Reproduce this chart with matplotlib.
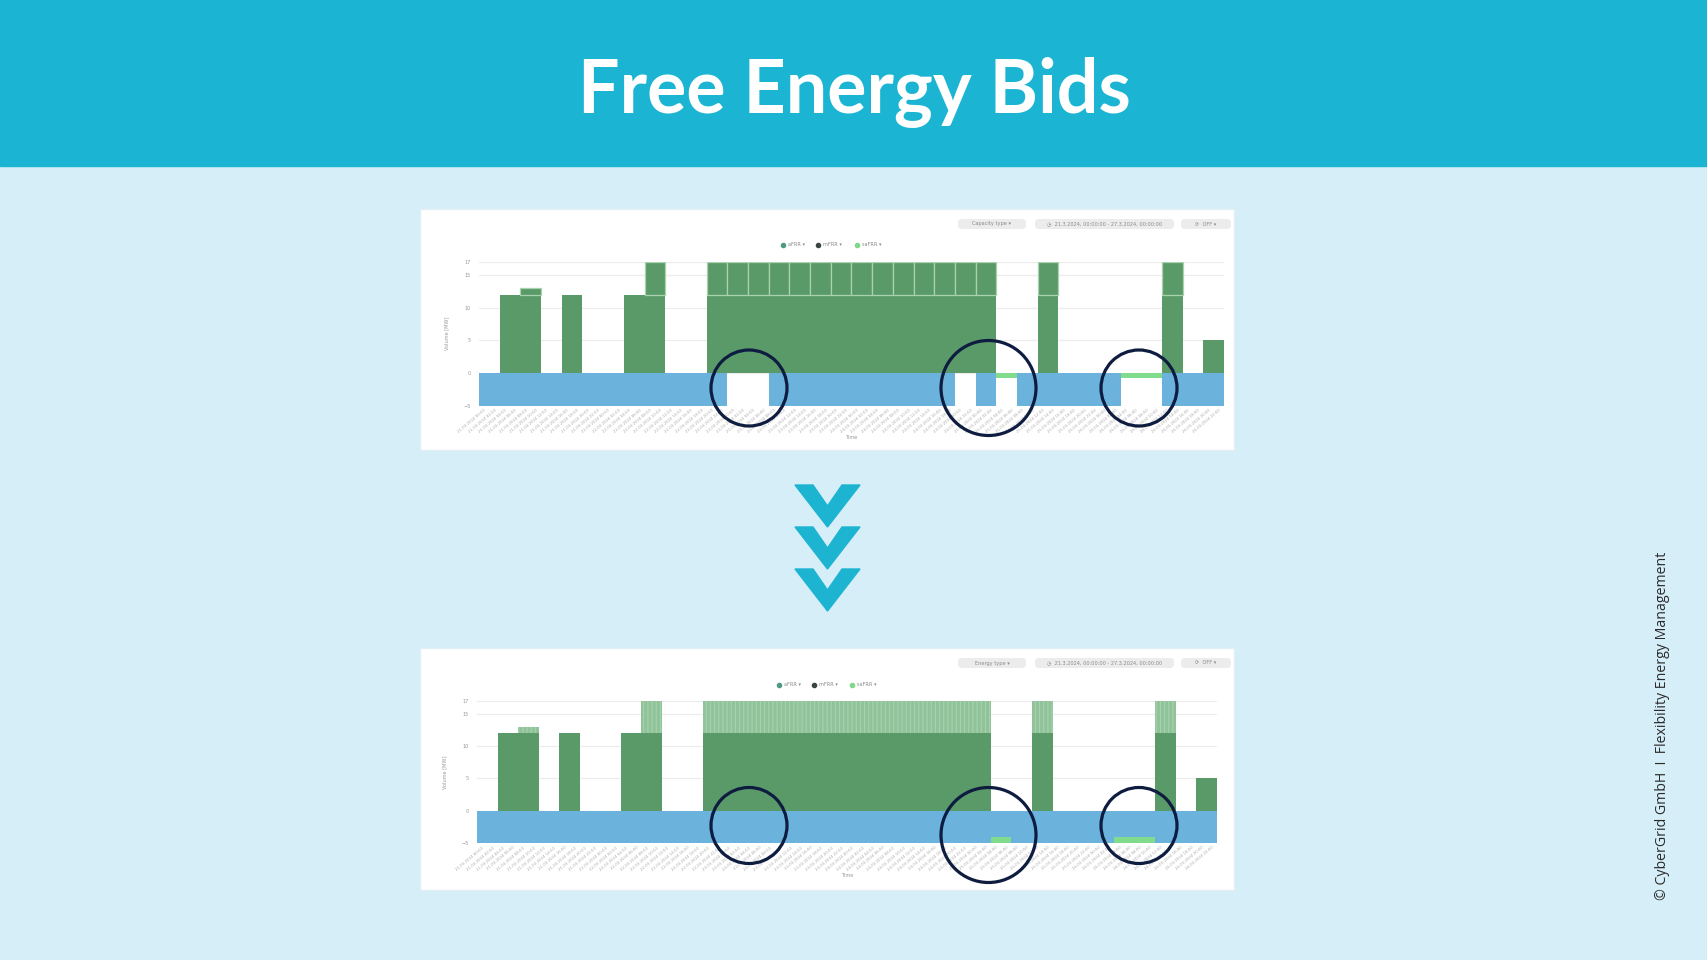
import numpy as np
import pandas as pd
import matplotlib
matplotlib.use("Agg")
import matplotlib.pyplot as plt
from matplotlib.patches import Rectangle, Circle, Polygon, FancyBboxPatch

W, H = 1708, 960

# colours
BG = "#d6eef8"
HEADER = "#1bb5d3"
DARK_GREEN = "#5a9a68"
PEAK_EDGE = "#a9d3ae"
LIGHT_TOP = "#90c399"
BLUE = "#6bb2dc"
LIGHT_GREEN = "#80dc8c"
NAVY = "#0e1c40"

# 36 time slots per chart
slots = np.arange(36)
green_base = [0, 12, 12, 0, 12, 0, 0, 12, 12, 0, 0,
              12, 12, 12, 12, 12, 12, 12, 12, 12, 12, 12, 12, 12, 12,
              0, 0, 12, 0, 0, 0, 0, 0, 12, 0, 5]
green_peak = [0, 0, 1, 0, 0, 0, 0, 0, 5, 0, 0,
              5, 5, 5, 5, 5, 5, 5, 5, 5, 5, 5, 5, 5, 5,
              0, 0, 5, 0, 0, 0, 0, 0, 5, 0, 0]

# before: capacity view
blue_before = [-5] * 12 + [0, 0] + [-5] * 9 + [0, -5, 0] + [-5] * 5 + [0, 0] + [-5] * 3
light_before = [0] * 25 + [-0.8] + [0] * 5 + [-0.8, -0.8] + [0] * 3

# after: energy view
blue_after = [-5] * 25 + [-4.1] + [-5] * 5 + [-4.1, -4.1] + [-5] * 3
light_after = [0] * 25 + [-0.9] + [0] * 5 + [-0.9, -0.9] + [0] * 3

yticks = [-5, 0, 5, 10, 15, 17]
time_labels = [t.strftime("%d.%m.%Y %H:%M")
               for t in pd.date_range("2024-03-21 00:00", periods=72, freq="2h")]
legend_names = ["aFRR ▾", "mFRR ▾", "saFRR ▾"]
legend_colors = ["#4f9a86", "#3a4540", "#7fd98a"]

plt.rcParams["hatch.linewidth"] = 0.7

fig = plt.figure(figsize=(W / 100, H / 100), dpi=100)
fig.patch.set_facecolor(BG)

# background layer in pixel coordinates
bg = fig.add_axes([0, 0, 1, 1], zorder=0)
bg.set_xlim(0, W)
bg.set_ylim(H, 0)
bg.axis("off")
bg.add_patch(Rectangle((0, 0), W, 166, color=HEADER))
bg.text(W / 2, 92, "Free Energy Bids", color="white", fontsize=53,
        fontweight="bold", family="Lato", ha="center", va="center")
bg.text(1663, 726, "© CyberGrid GmbH  I  Flexibility Energy Management",
        rotation=90, fontsize=10.2, family="Open Sans", color="#2a2a2a",
        ha="center", va="center")

# arrows between the two screenshots
for t in [485, 527, 569]:
    bg.add_patch(Polygon([(795, t), (813, t), (827.5, t + 21), (842, t),
                          (860, t), (827.5, t + 42)], closed=True,
                         color="#1db4d2"))


def panel(y0, y1, ctrl_name, legend_y, legend_x):
    bg.add_patch(Rectangle((420, y0), 814, y1 - y0, fc="white", ec="#e2f0f5", lw=1))
    cy = y0 + 15
    boxes = [(958, 68, ctrl_name), (1035, 139, "◷  21.3.2024, 00:00:00 - 27.3.2024, 00:00:00"),
             (1181, 50, "⟳  OFF ▾")]
    for bx, bw, txt in boxes:
        bg.add_patch(FancyBboxPatch((bx, cy - 5), bw, 10,
                                    boxstyle="round,pad=0,rounding_size=4",
                                    fc="#ececec", ec="none"))
        bg.text(bx + bw / 2, cy, txt, fontsize=3.6, color="#8a8a8a",
                ha="center", va="center", family=["DejaVu Sans"])
    for lx, name, col in zip(legend_x, legend_names, legend_colors):
        bg.scatter([lx], [legend_y], s=9, color=col, zorder=3)
        bg.text(lx + 5, legend_y, name, fontsize=3.6, color="#8a8a8a", va="center")


panel(209, 450, "Capacity type ▾", 245, [783, 818, 857])
panel(648, 890, "Energy type ▾", 685, [779, 814, 852])


def chart_axes(x0, y_top, x1, y_bot):
    return fig.add_axes([x0 / W, 1 - y_bot / H, (x1 - x0) / W, (y_bot - y_top) / H],
                        zorder=1)


def style(ax):
    ax.set_xlim(-0.5, 35.5)
    ax.set_ylim(-5, 17)
    ax.set_yticks(yticks)
    ax.tick_params(axis="y", length=0, labelsize=3.6, labelcolor="#9a9a9a", pad=6)
    ax.set_xticks(np.arange(72) / 2 - 0.25)
    ax.set_xticklabels(time_labels, rotation=40, ha="right", rotation_mode="anchor",
                       fontsize=2.8, color="#aaaaaa")
    ax.tick_params(axis="x", length=0, pad=2)
    for s in ax.spines.values():
        s.set_visible(False)
    ax.yaxis.grid(True, color="#ececec", lw=0.8)
    ax.set_axisbelow(True)
    ax.set_facecolor("none")
    ax.set_ylabel("Volume [MW]", fontsize=3.6, color="#9a9a9a", labelpad=10)
    ax.set_xlabel("Time", fontsize=3.6, color="#9a9a9a", labelpad=1)


# before chart
ax1 = chart_axes(479, 262, 1224, 405.5)
ax1.bar(slots, green_base, width=1, color=DARK_GREEN, lw=0)
ax1.bar(slots, green_peak, bottom=green_base, width=1, color=DARK_GREEN,
        edgecolor=[PEAK_EDGE if p else "none" for p in green_peak], lw=0.9)
ax1.bar(slots, blue_before, width=1, color=BLUE, lw=0)
ax1.bar(slots, light_before, width=1, color=LIGHT_GREEN, lw=0)
style(ax1)

# after chart
ax2 = chart_axes(477, 701, 1217, 843)
ax2.bar(slots, green_base, width=1, color=DARK_GREEN, lw=0)
ax2.bar(slots, green_peak, bottom=green_base, width=1, color=LIGHT_TOP,
        edgecolor="#a9d3b0", hatch="||||", lw=0)
ax2.bar(slots, blue_after, width=1, color=BLUE, lw=0)
ax2.bar(slots, light_after, bottom=blue_after, width=1, color=LIGHT_GREEN, lw=0)
style(ax2)

# highlight circles on top
ov = fig.add_axes([0, 0, 1, 1], zorder=3)
ov.set_xlim(0, W)
ov.set_ylim(H, 0)
ov.axis("off")
for cx, cy, r in [(749, 388, 38), (988.5, 388, 47.5), (1139, 388, 38),
                  (749, 825.5, 38), (988.5, 835, 47.5), (1139, 825.5, 38)]:
    ov.add_patch(Circle((cx, cy), r, fill=False, ec=NAVY, lw=2.3))

fig.savefig("out.png", dpi=100, facecolor=fig.get_facecolor())
